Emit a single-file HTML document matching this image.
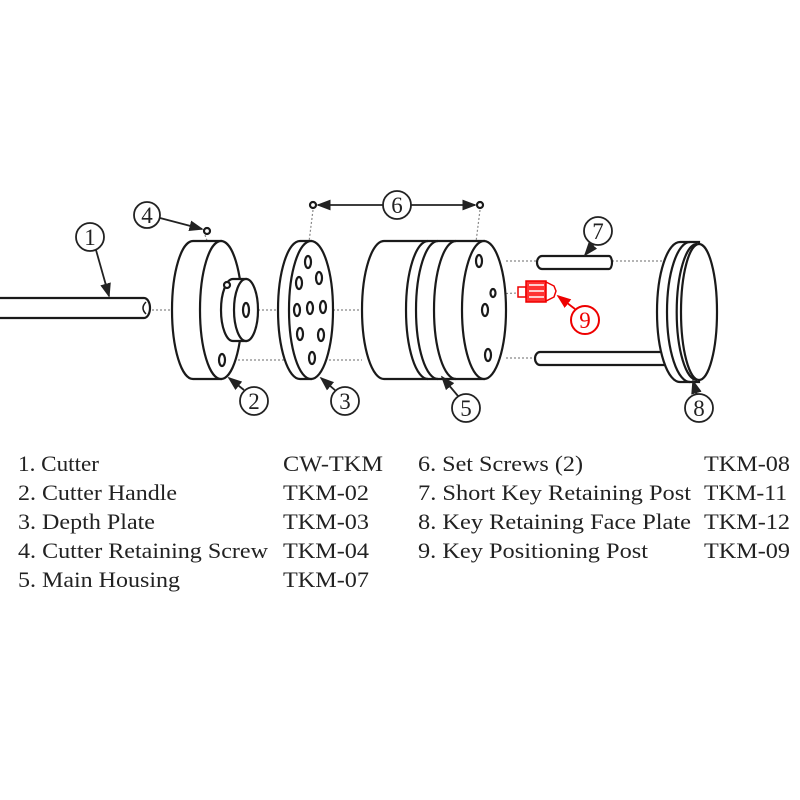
<!DOCTYPE html>
<html><head><meta charset="utf-8"><style>
html,body{margin:0;padding:0;background:#fff;}
svg{display:block;}
text{font-family:"Liberation Serif",serif;}
</style></head><body>
<svg width="800" height="800" viewBox="0 0 800 800" xmlns="http://www.w3.org/2000/svg">
<defs>
<marker id="ar" markerWidth="8" markerHeight="8" refX="7" refY="4" orient="auto"><path d="M0,1 L8,4 L0,7 z" fill="#222"/></marker>
<marker id="arr" markerWidth="8" markerHeight="8" refX="7" refY="4" orient="auto"><path d="M0,1 L8,4 L0,7 z" fill="#e00"/></marker>
</defs>
<g fill="none" stroke="#888" stroke-width="1.2" stroke-dasharray="2,2">
<line x1="152" y1="310" x2="172" y2="310"/>
<line x1="258" y1="310" x2="288" y2="310"/>
<line x1="333" y1="310" x2="362" y2="310"/>
<line x1="222" y1="360" x2="298" y2="360"/>
<line x1="325" y1="360" x2="362" y2="360"/>
<line x1="205" y1="235" x2="222" y2="282"/>
<line x1="313" y1="210" x2="309" y2="242"/>
<line x1="480" y1="210" x2="476" y2="242"/>
<line x1="506" y1="261" x2="537" y2="261"/>
<line x1="612" y1="261" x2="665" y2="261"/>
<line x1="506" y1="358" x2="535" y2="358"/>
<line x1="494" y1="294" x2="518" y2="293"/>
</g>
<g fill="#fff" stroke="#1a1a1a" stroke-width="2.2">
<path d="M0,298 H144 A6,10 0 0 1 144,318 H0"/>
<path d="M146,302 q-6,6 0,12" stroke-width="1.5"/>
<path d="M193,241 H221 V379 H193 A21,69 0 0 1 193,241 Z"/>
<ellipse cx="221" cy="310" rx="21" ry="69"/>
<path d="M233,279 H246 V341 H233 A12,31 0 0 1 233,279 Z"/>
<ellipse cx="246" cy="310" rx="12" ry="31"/>
<ellipse cx="246" cy="310" rx="3" ry="7"/>
<ellipse cx="222" cy="360" rx="3" ry="6"/>
<ellipse cx="227" cy="285" rx="3" ry="3"/>
<path d="M300,241 H311 V379 H300 A22,69 0 0 1 300,241 Z"/>
<ellipse cx="311" cy="310" rx="22" ry="69"/>
<ellipse cx="308" cy="262" rx="3" ry="6"/>
<ellipse cx="299" cy="283" rx="3" ry="6"/>
<ellipse cx="319" cy="278" rx="3" ry="6"/>
<ellipse cx="297" cy="310" rx="3" ry="6"/>
<ellipse cx="310" cy="308" rx="3" ry="6"/>
<ellipse cx="323" cy="307" rx="3" ry="6"/>
<ellipse cx="300" cy="334" rx="3" ry="6"/>
<ellipse cx="321" cy="335" rx="3" ry="6"/>
<ellipse cx="312" cy="358" rx="3" ry="6"/>
<path d="M384,241 H484 V379 H384 A22,69 0 0 1 384,241 Z"/>
<path d="M428,241 A22,69 0 0 0 428,379" fill="none"/>
<path d="M438,241 A22,69 0 0 0 438,379" fill="none"/>
<path d="M456,241 A22,69 0 0 0 456,379" fill="none"/>
<ellipse cx="484" cy="310" rx="22" ry="69"/>
<ellipse cx="479" cy="261" rx="3" ry="6"/>
<ellipse cx="493" cy="293" rx="2.5" ry="4"/>
<ellipse cx="485" cy="310" rx="3" ry="6"/>
<ellipse cx="488" cy="355" rx="3" ry="6"/>
<path d="M542,256 H609 A3,6.5 0 0 1 609,269 H542 A5,6.5 0 0 1 542,256 Z"/>
<path d="M540,352 H665 V365 H540 A5,6.5 0 0 1 540,352 Z"/>
<path d="M680,242 H699 V382 H680 A23,70 0 0 1 680,242 Z"/>
<path d="M690,242 A23,70 0 0 0 690,382" fill="none"/>
<path d="M697,244 A20,67 0 0 0 697,380" fill="none"/>
<ellipse cx="699" cy="312" rx="18" ry="68"/>
<circle cx="207" cy="231" r="3"/>
<circle cx="313" cy="205" r="3"/>
<circle cx="480" cy="205" r="3"/>
</g>
<g stroke="#e00" stroke-width="1.5">
<rect x="518" y="287" width="8" height="10" fill="#fff"/>
<rect x="526" y="281" width="20" height="21" fill="#f33"/>
<path d="M546,282 L554,286 L556,291 L554,297 L546,301 Z" fill="#fff"/>
<line x1="529" y1="285" x2="544" y2="285" stroke="#fff"/>
<line x1="529" y1="291" x2="544" y2="291" stroke="#fff"/>
<line x1="529" y1="297" x2="544" y2="297" stroke="#fff"/>
</g>
<g stroke="#222" stroke-width="1.8" fill="none">
<line x1="96" y1="250" x2="109" y2="296" marker-end="url(#ar)"/>
<line x1="160" y1="218" x2="202" y2="229" marker-end="url(#ar)"/>
<line x1="384" y1="205" x2="318" y2="205" marker-end="url(#ar)"/>
<line x1="410" y1="205" x2="475" y2="205" marker-end="url(#ar)"/>
<line x1="594" y1="244" x2="585" y2="255" marker-end="url(#ar)"/>
<line x1="244" y1="390" x2="229" y2="378" marker-end="url(#ar)"/>
<line x1="336" y1="391" x2="321" y2="378" marker-end="url(#ar)"/>
<line x1="458" y1="396" x2="442" y2="377" marker-end="url(#ar)"/>
<line x1="697" y1="395" x2="693" y2="381" marker-end="url(#ar)"/>
</g>
<line x1="575" y1="309" x2="558" y2="296" stroke="#e00" stroke-width="1.8" marker-end="url(#arr)"/>
<g fill="#fff" stroke="#222" stroke-width="1.8">
<circle cx="90" cy="237" r="14"/><circle cx="147" cy="215" r="13"/>
<circle cx="254" cy="401" r="14"/><circle cx="345" cy="401" r="14"/>
<circle cx="466" cy="408" r="14"/><circle cx="397" cy="205" r="14"/>
<circle cx="598" cy="231" r="14"/><circle cx="699" cy="408" r="14"/>
</g>
<circle cx="585" cy="320" r="14" fill="#fff" stroke="#e00" stroke-width="2"/>
<g font-size="23" text-anchor="middle" fill="#222">
<text x="90" y="245">1</text><text x="147" y="223">4</text>
<text x="254" y="409">2</text><text x="345" y="409">3</text>
<text x="466" y="416">5</text><text x="397" y="213">6</text>
<text x="598" y="239">7</text><text x="699" y="416">8</text>
<text x="585" y="328" fill="#e00">9</text>
</g>
<g font-size="22" fill="#222">
<text x="18" y="471" textLength="81" lengthAdjust="spacingAndGlyphs">1. Cutter</text>
<text x="18" y="500" textLength="159" lengthAdjust="spacingAndGlyphs">2. Cutter Handle</text>
<text x="18" y="529" textLength="137" lengthAdjust="spacingAndGlyphs">3. Depth Plate</text>
<text x="18" y="558" textLength="250" lengthAdjust="spacingAndGlyphs">4. Cutter Retaining Screw</text>
<text x="18" y="587" textLength="162" lengthAdjust="spacingAndGlyphs">5. Main Housing</text>
<text x="283" y="471" textLength="100" lengthAdjust="spacingAndGlyphs">CW-TKM</text>
<text x="283" y="500" textLength="86" lengthAdjust="spacingAndGlyphs">TKM-02</text>
<text x="283" y="529" textLength="86" lengthAdjust="spacingAndGlyphs">TKM-03</text>
<text x="283" y="558" textLength="86" lengthAdjust="spacingAndGlyphs">TKM-04</text>
<text x="283" y="587" textLength="86" lengthAdjust="spacingAndGlyphs">TKM-07</text>
<text x="418" y="471" textLength="165" lengthAdjust="spacingAndGlyphs">6. Set Screws (2)</text>
<text x="418" y="500" textLength="273" lengthAdjust="spacingAndGlyphs">7. Short Key Retaining Post</text>
<text x="418" y="529" textLength="273" lengthAdjust="spacingAndGlyphs">8. Key Retaining Face Plate</text>
<text x="418" y="558" textLength="230" lengthAdjust="spacingAndGlyphs">9. Key Positioning Post</text>
<text x="704" y="471" textLength="86" lengthAdjust="spacingAndGlyphs">TKM-08</text>
<text x="704" y="500" textLength="83" lengthAdjust="spacingAndGlyphs">TKM-11</text>
<text x="704" y="529" textLength="86" lengthAdjust="spacingAndGlyphs">TKM-12</text>
<text x="704" y="558" textLength="86" lengthAdjust="spacingAndGlyphs">TKM-09</text>
</g>
</svg>
</body></html>
